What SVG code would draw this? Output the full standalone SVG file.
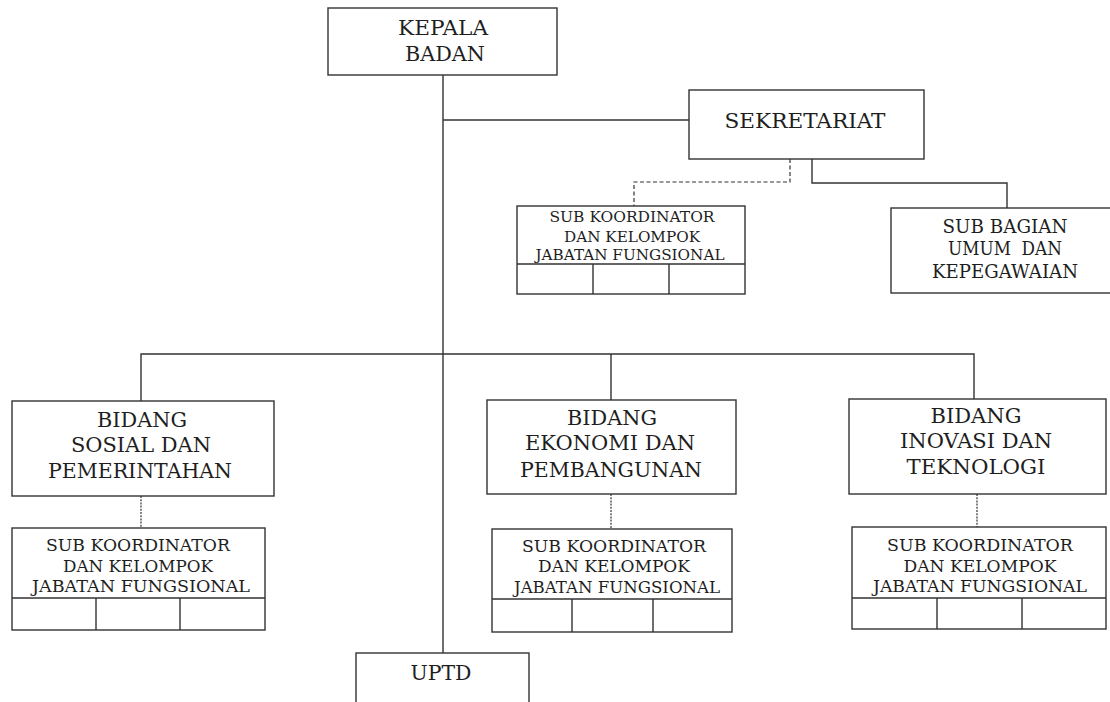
<svg xmlns="http://www.w3.org/2000/svg" width="1110" height="702" viewBox="0 0 1110 702">
<style>
  .box{fill:#fff;stroke:#333;stroke-width:1.4}
  .ln{fill:none;stroke:#333;stroke-width:1.4}
  .dash{fill:none;stroke:#333;stroke-width:1.2;stroke-dasharray:4 2.5}
  .dot{fill:none;stroke:#333;stroke-width:1.2;stroke-dasharray:2 1.2}
  text{font-family:"DejaVu Serif","Liberation Serif",serif;fill:#1e1e1e;text-anchor:middle}
  .t20{font-size:19.5px}
  .t18{font-size:18px}
  .t17{font-size:16.5px}
  .t16{font-size:16px}
  .t15{font-size:14.6px}
</style>
<rect width="1110" height="702" fill="#fff"/>
<g id="connectors">
  <path class="ln" d="M443 75V653"/>
  <path class="ln" d="M443 120H689"/>
  <path class="dash" d="M790 159V182H634V206"/>
  <path class="ln" d="M812 159V183H1007V208"/>
  <path class="ln" d="M141 401V354H974V399"/>
  <path class="ln" d="M611 354V400"/>
  <path class="dot" d="M141 496V528"/>
  <path class="dot" d="M611 494V529"/>
  <path class="dot" d="M977 494V527"/>
</g>
<g id="kepala-badan">
  <rect class="box" x="328" y="8" width="229" height="67"/>
  <text class="t20" x="443" y="35" textLength="90" lengthAdjust="spacingAndGlyphs">KEPALA</text>
  <text class="t20" x="445" y="61" textLength="80" lengthAdjust="spacingAndGlyphs">BADAN</text>
</g>
<g id="sekretariat">
  <rect class="box" x="689" y="90" width="235" height="69"/>
  <text class="t20" x="805" y="128" textLength="161" lengthAdjust="spacingAndGlyphs">SEKRETARIAT</text>
</g>
<g id="sub-koordinator-sekretariat">
  <rect class="box" x="517" y="206" width="228" height="88"/>
  <path class="ln" d="M517 264H745M593 264V294M669 264V294"/>
  <text class="t15" x="632" y="222" textLength="165" lengthAdjust="spacingAndGlyphs">SUB KOORDINATOR</text>
  <text class="t15" x="632" y="242" textLength="136" lengthAdjust="spacingAndGlyphs">DAN KELOMPOK</text>
  <text class="t15" x="630" y="260" textLength="189" lengthAdjust="spacingAndGlyphs">JABATAN FUNGSIONAL</text>
</g>
<g id="sub-bagian-umum">
  <rect class="box" x="891" y="208" width="232" height="85"/>
  <text class="t18" x="1005" y="233" textLength="125" lengthAdjust="spacingAndGlyphs">SUB BAGIAN</text>
  <text class="t18" x="1005" y="255" xml:space="preserve" textLength="114" lengthAdjust="spacingAndGlyphs">UMUM  DAN</text>
  <text class="t18" x="1005" y="278" textLength="146" lengthAdjust="spacingAndGlyphs">KEPEGAWAIAN</text>
</g>
<g id="bidang-sosial">
  <rect class="box" x="12" y="401" width="262" height="95"/>
  <text class="t20" x="142" y="427" textLength="90" lengthAdjust="spacingAndGlyphs">BIDANG</text>
  <text class="t20" x="141" y="452" textLength="140" lengthAdjust="spacingAndGlyphs">SOSIAL DAN</text>
  <text class="t20" x="140" y="478" textLength="184" lengthAdjust="spacingAndGlyphs">PEMERINTAHAN</text>
</g>
<g id="sub-koordinator-sosial">
  <rect class="box" x="12" y="528" width="253" height="102"/>
  <path class="ln" d="M12 598H265M96 598V630M180 598V630"/>
  <text class="t17" x="138" y="551" textLength="184" lengthAdjust="spacingAndGlyphs">SUB KOORDINATOR</text>
  <text class="t17" x="138" y="572" textLength="150" lengthAdjust="spacingAndGlyphs">DAN KELOMPOK</text>
  <text class="t17" x="141" y="592" textLength="218" lengthAdjust="spacingAndGlyphs">JABATAN FUNGSIONAL</text>
</g>
<g id="bidang-ekonomi">
  <rect class="box" x="487" y="400" width="249" height="94"/>
  <text class="t20" x="612" y="425" textLength="90" lengthAdjust="spacingAndGlyphs">BIDANG</text>
  <text class="t20" x="610" y="450" textLength="170" lengthAdjust="spacingAndGlyphs">EKONOMI DAN</text>
  <text class="t20" x="611" y="477" textLength="182" lengthAdjust="spacingAndGlyphs">PEMBANGUNAN</text>
</g>
<g id="sub-koordinator-ekonomi">
  <rect class="box" x="492" y="529" width="240" height="103"/>
  <path class="ln" d="M492 599H732M572 599V632M653 599V632"/>
  <text class="t16" x="614" y="552" textLength="184" lengthAdjust="spacingAndGlyphs">SUB KOORDINATOR</text>
  <text class="t16" x="614" y="572" textLength="152" lengthAdjust="spacingAndGlyphs">DAN KELOMPOK</text>
  <text class="t16" x="617" y="593" textLength="206" lengthAdjust="spacingAndGlyphs">JABATAN FUNGSIONAL</text>
</g>
<g id="bidang-inovasi">
  <rect class="box" x="849" y="399" width="257" height="95"/>
  <text class="t20" x="976" y="423" textLength="91" lengthAdjust="spacingAndGlyphs">BIDANG</text>
  <text class="t20" x="976" y="448" textLength="152" lengthAdjust="spacingAndGlyphs">INOVASI DAN</text>
  <text class="t20" x="976" y="474" textLength="139" lengthAdjust="spacingAndGlyphs">TEKNOLOGI</text>
</g>
<g id="sub-koordinator-inovasi">
  <rect class="box" x="852" y="527" width="254" height="102"/>
  <path class="ln" d="M852 598H1106M937 598V629M1022 598V629"/>
  <text class="t17" x="980" y="551" textLength="186" lengthAdjust="spacingAndGlyphs">SUB KOORDINATOR</text>
  <text class="t17" x="980" y="572" textLength="153" lengthAdjust="spacingAndGlyphs">DAN KELOMPOK</text>
  <text class="t17" x="980" y="592" textLength="214" lengthAdjust="spacingAndGlyphs">JABATAN FUNGSIONAL</text>
</g>
<g id="uptd">
  <rect class="box" x="356" y="653" width="173" height="60"/>
  <text class="t20" x="441" y="680" textLength="61" lengthAdjust="spacingAndGlyphs">UPTD</text>
</g>
</svg>
